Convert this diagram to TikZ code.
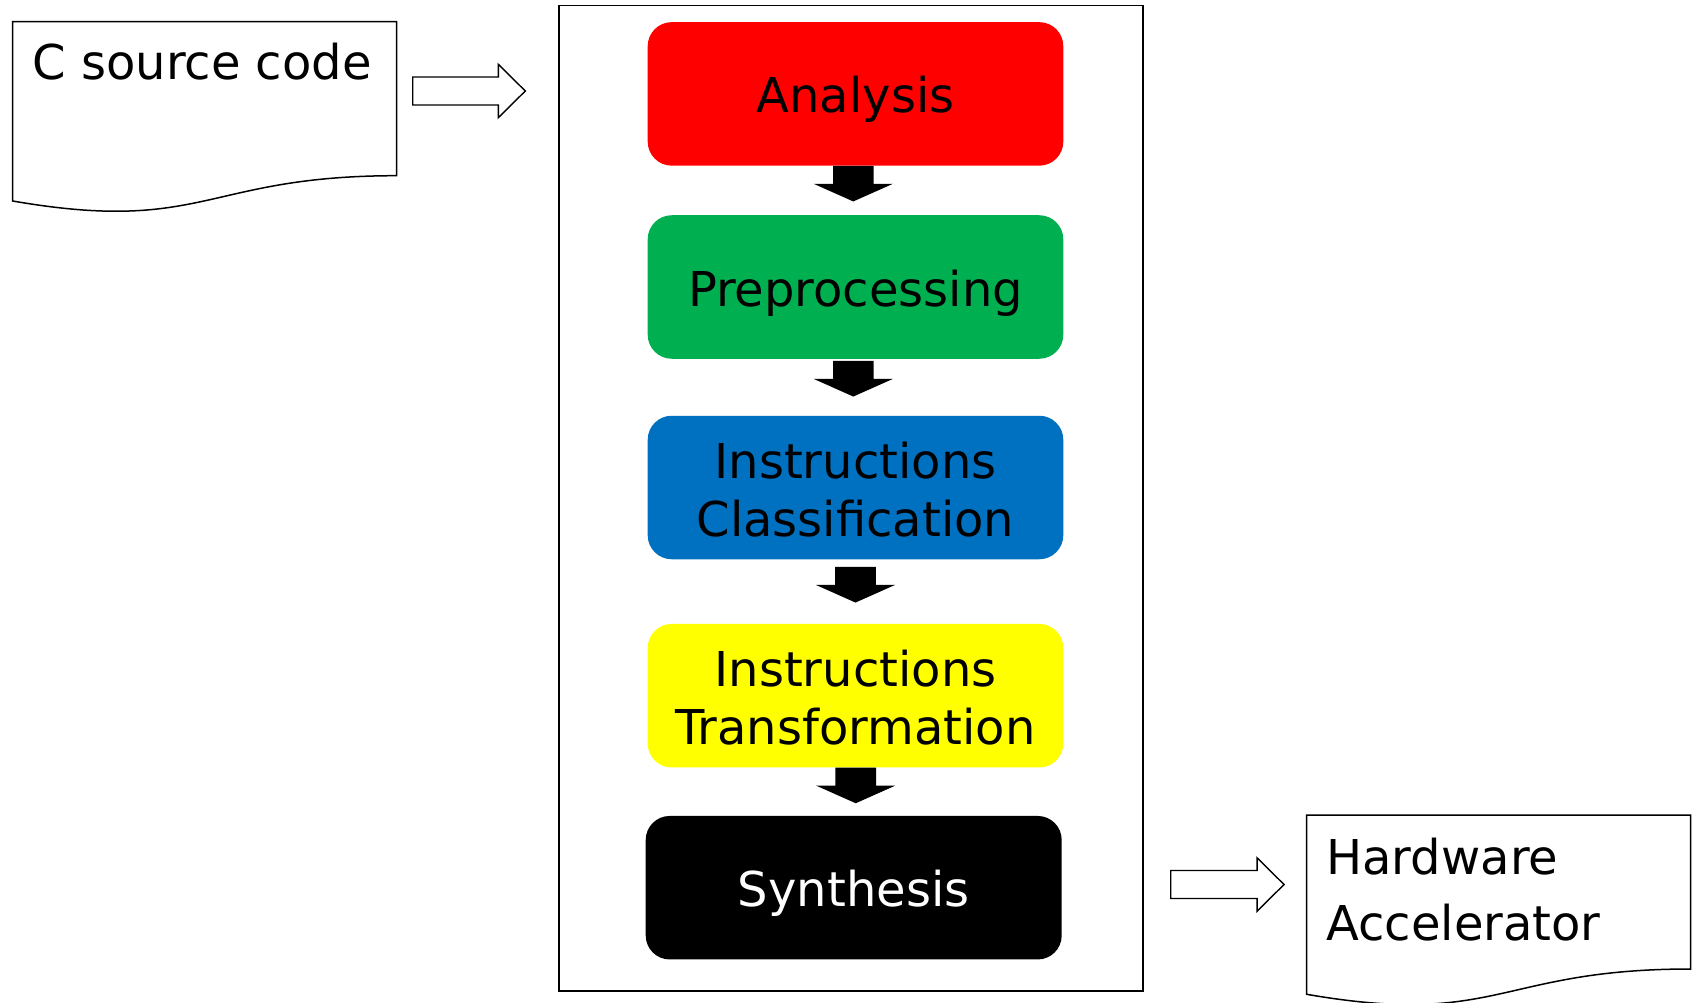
\documentclass[tikz,border=0pt]{standalone}
\usepackage{fontspec}
\setmainfont{DejaVu Sans}
\usetikzlibrary{calc}

\definecolor{stagered}{HTML}{FF0000}
\definecolor{stagegreen}{HTML}{00B050}
\definecolor{stageblue}{HTML}{0070C0}
\definecolor{stageyellow}{HTML}{FFFF00}

\tikzset{
  stage/.style={rectangle, rounded corners=24pt, minimum width=415.6pt,
    minimum height=143.5pt, inner sep=0pt, align=center,
    font=\fontsize{48}{57.7}\selectfont, text depth=0pt},
  oneline/.style={text height=38pt},
  twoline/.style={text height=97pt},
  flow/.style={fill=black},
  hollow/.style={draw=black, fill=white, line width=1.4pt, line join=miter},
  docshape/.style={draw=black, fill=white, line width=1.5pt},
  frame/.style={draw=black, line width=1.5pt, rectangle, inner sep=0pt},
  doctext/.style={anchor=base west, inner sep=0pt},
}

% document symbol: flat top, wavy bottom edge (#1,#2 = top-left corner, #3 = name)
\newcommand\docsymbol[3]{%
  \draw[docshape] (#1,#2) coordinate (#3-nw) -- ++(384,0) coordinate (#3-ne)
    -- ++(0,154) coordinate (#3-se)
    .. controls ($(#1,#2)+(192,154)$) and ($(#1,#2)+(192,212.6)$) ..
    ($(#1,#2)+(0,179.3)$) coordinate (#3-sw) -- cycle;}

% solid downward block arrow below a stage (#1 node, #2 x offset, #3 gap)
\newcommand\blockdown[3]{%
  \fill[flow] ($(#1.south)+(#2-20.3,#3)$) -- ++(40.6,0) -- ++(0,18)
    -- ++(19.2,0) -- ++(-39.5,17.6) -- ++(-39.5,-17.6) -- ++(19.2,0) -- cycle;}

% outlined right block arrow (#1 start on centre line, #2 shaft length)
\newcommand\hollowright[2]{%
  \draw[hollow] ($(#1)+(0,-14)$) -- ++(#2,0) -- ++(0,-12.7) -- ++(27,26.7)
    -- ++(-27,26.7) -- ++(0,-12.7) -- ++(-#2,0) -- cycle;}

\begin{document}
\begin{tikzpicture}[x=1pt, y=-1pt]
  \useasboundingbox (0,0) rectangle (1692,1003);

  % input document
  \docsymbol{12.7}{21.7}{src}
  \node[doctext, font=\fontsize{48}{57.7}\selectfont] (srctext)
    at ($(src-nw)+(19.7,58.3)$) {C source code};

  % tool flow frame
  \node[frame, minimum width=584pt, minimum height=985.7pt] (flowbox) at (851,498.15) {};

  \node[stage, oneline, fill=stagered] (ana) at (855.5,93.9) {Analysis};
  \node[stage, oneline, fill=stagegreen] (pre) at (855.5,287) {Preprocessing};
  \node[stage, twoline, fill=stageblue] (cls) at (855.5,487.5) {Instructions\\Classification};
  \node[stage, twoline, fill=stageyellow] (trf) at (855.5,695.7) {Instructions\\Transformation};
  \node[stage, oneline, fill=black, text=white, minimum width=416pt] (syn) at (853.7,887.7) {Synthesis};

  \blockdown{ana}{-2.2}{0}
  \blockdown{pre}{-2.2}{2}
  \blockdown{cls}{0}{7.5}
  \blockdown{trf}{0.2}{0}

  % output document
  \docsymbol{1306.7}{815}{hw}
  \node[doctext, font=\fontsize{48}{66.7}\selectfont] (hwtext)
    at ($(hw-nw)+(19.5,59)$) {\begin{tabular}[t]{@{}l@{}}Hardware\\Accelerator\end{tabular}};

  % input and output arrows
  \coordinate (inarrow) at ($(src-ne)+(16,69.3)$);
  \hollowright{inarrow}{85.6}
  \coordinate (outarrow) at ($(flowbox.east |- syn.center)+(27,-3.2)$);
  \hollowright{outarrow}{86.3}
\end{tikzpicture}
\end{document}
